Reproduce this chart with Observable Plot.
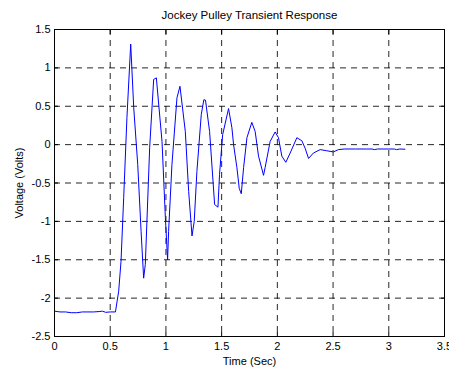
<!DOCTYPE html>
<html>
<head>
<meta charset="utf-8">
<script src="https://cdn.jsdelivr.net/npm/d3@7"></script>
<script src="https://cdn.jsdelivr.net/npm/@observablehq/plot@0.6"></script>
<style>
  html, body { margin: 0; padding: 0; background: #fff; }
</style>
</head>
<body>
<div id="chart"></div>
<script>
const title = "Jockey Pulley Transient Response";
const xLabel = "Time (Sec)";
const yLabel = "Voltage (Volts)";
const xTicks = [0, 0.5, 1, 1.5, 2, 2.5, 3, 3.5];
const yTicks = [-2.5, -2, -1.5, -1, -0.5, 0, 0.5, 1, 1.5];

const times = [
  0, 0.05, 0.1, 0.15, 0.2, 0.25, 0.3, 0.35, 0.4, 0.43, 0.46, 0.5, 0.547,
  0.576, 0.597, 0.621, 0.65, 0.684, 0.711, 0.747, 0.777, 0.80, 0.815, 0.854,
  0.89, 0.914, 0.965, 0.995, 1.015, 1.024, 1.054, 1.099, 1.126, 1.174, 1.204,
  1.234, 1.254, 1.278, 1.317, 1.340, 1.355, 1.392, 1.437, 1.467, 1.481, 1.509,
  1.562, 1.592, 1.607, 1.637, 1.658, 1.676, 1.697, 1.727, 1.771, 1.801, 1.831,
  1.876, 1.89, 1.935, 1.98, 2.01, 2.04, 2.076, 2.115, 2.175, 2.22, 2.25, 2.28,
  2.323, 2.384, 2.443, 2.503, 2.548, 2.6, 2.7, 2.8, 2.85, 2.87, 2.9, 3.0,
  3.05, 3.07, 3.1, 3.145
];
const volts = [
  -2.17, -2.18, -2.18, -2.19, -2.19, -2.18, -2.18, -2.18, -2.175, -2.17, -2.185, -2.18, -2.18,
  -1.91, -1.52, -0.69, 0.35, 1.31, 0.48, -0.26, -1.13, -1.74, -1.56, -0.04,
  0.85, 0.87, 0.04, -0.95, -1.50, -1.13, -0.26, 0.61, 0.76, 0.17, -0.61,
  -1.19, -1.0, -0.35, 0.39, 0.585, 0.58, 0.17, -0.78, -0.815, -0.39, 0.13,
  0.47, 0.22, 0.0, -0.30, -0.57, -0.64, -0.30, 0.09, 0.29, 0.17, -0.15,
  -0.40, -0.30, 0.04, 0.165, 0.09, -0.15, -0.23, -0.11, 0.09, 0.05, -0.05, -0.18,
  -0.11, -0.065, -0.08, -0.095, -0.065, -0.057, -0.057, -0.057, -0.057, -0.065, -0.057, -0.057,
  -0.057, -0.065, -0.057, -0.06
];

const data = times.map((t, i) => ({t, v: volts[i]}));
const font = "'Liberation Sans', Arial, sans-serif";

const chart = Plot.plot({
  width: 449,
  height: 367,
  marginLeft: 54,
  marginRight: 5,
  marginTop: 29,
  marginBottom: 31,
  style: {fontFamily: font, fontSize: "11px", background: "#fff", color: "#000", overflow: "visible"},
  x: {domain: [0, 3.5], label: null},
  y: {domain: [-2.5, 1.5], label: null},
  marks: [
    Plot.gridX(xTicks, {stroke: "#000", strokeOpacity: 0.85, strokeDasharray: "6,5"}),
    Plot.gridY(yTicks, {stroke: "#000", strokeOpacity: 0.85, strokeDasharray: "6,5"}),
    Plot.line(data, {x: "t", y: "v", stroke: "#0000ff", strokeWidth: 1}),
    Plot.frame({stroke: "#000", strokeWidth: 1}),
    Plot.axisX(xTicks, {anchor: "bottom", tickSize: 0, tickPadding: 6, tickFormat: d => String(d), fontSize: 11}),
    Plot.axisY(yTicks, {anchor: "left", tickSize: 0, tickPadding: 4, tickFormat: d => String(d), fontSize: 11}),
    Plot.axisX(xTicks, {anchor: "bottom", tickSize: 4, dy: -4, text: null}),
    Plot.axisX(xTicks, {anchor: "top", tickSize: 4, dy: 4, text: null}),
    Plot.axisY(yTicks, {anchor: "left", tickSize: 4, dx: 4, text: null}),
    Plot.axisY(yTicks, {anchor: "right", tickSize: 4, dx: -4, text: null}),
    Plot.text([title], {frameAnchor: "top", dy: -14, text: d => d, fontSize: 11.5, textAnchor: "middle", lineAnchor: "middle"}),
    Plot.text([xLabel], {frameAnchor: "bottom", dy: 25, text: d => d, fontSize: 11, textAnchor: "middle", lineAnchor: "middle"}),
    Plot.text([yLabel], {frameAnchor: "left", dx: -35, rotate: -90, text: d => d, fontSize: 11, textAnchor: "middle", lineAnchor: "middle"})
  ]
});
document.getElementById("chart").appendChild(chart);
</script>
</body>
</html>
